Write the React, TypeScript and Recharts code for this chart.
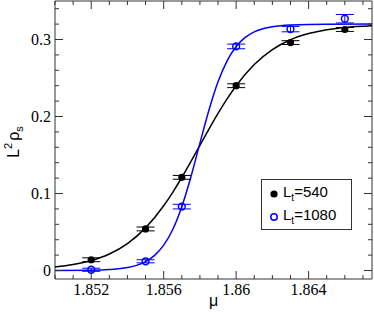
import { ComposedChart, Line, Scatter, XAxis, YAxis, ErrorBar, ReferenceArea, Legend } from "recharts";

// measured points, L_t = 540 and L_t = 1080
const MU = [1.852, 1.855, 1.857, 1.86, 1.863, 1.866];
const RHO_540 = [0.014, 0.054, 0.121, 0.24, 0.296, 0.313];
const ERR_540 = [0.0025, 0.0025, 0.0025, 0.0025, 0.0025, 0.0025];
const RHO_1080 = [0.001, 0.012, 0.083, 0.291, 0.3135, 0.327];
const ERR_1080 = [0.002, 0.002, 0.003, 0.003, 0.0035, 0.0055];

// fit curves
const FIT_MU_540 = [1.85, 1.851, 1.852, 1.853, 1.854, 1.855, 1.856, 1.8565, 1.857, 1.8575, 1.858, 1.8585, 1.859, 1.8595, 1.86, 1.861, 1.862, 1.863, 1.864, 1.865, 1.866, 1.8675];
const FIT_540 = [0.0046, 0.0078, 0.013, 0.0215, 0.035, 0.0554, 0.0841, 0.1016, 0.1208, 0.1413, 0.1626, 0.1837, 0.204, 0.2228, 0.2399, 0.2675, 0.2869, 0.2997, 0.3077, 0.3127, 0.3157, 0.318];
const FIT_MU_1080 = [1.85, 1.852, 1.853, 1.854, 1.8545, 1.855, 1.8555, 1.856, 1.8565, 1.857, 1.8575, 1.858, 1.8585, 1.859, 1.8595, 1.86, 1.8605, 1.861, 1.862, 1.863, 1.865, 1.8675];
const FIT_1080 = [0.0001, 0.0004, 0.0013, 0.0039, 0.0067, 0.0116, 0.0197, 0.0329, 0.0533, 0.0829, 0.1214, 0.1654, 0.2085, 0.245, 0.2723, 0.2909, 0.3027, 0.3099, 0.3166, 0.3189, 0.3199, 0.32];

const X_TICKS = [1.85, 1.851, 1.852, 1.853, 1.854, 1.855, 1.856, 1.857, 1.858, 1.859, 1.86, 1.861, 1.862, 1.863, 1.864, 1.865, 1.866, 1.867];
const X_MAJOR = [1.852, 1.856, 1.86, 1.864];
const Y_TICKS = [0, 0.02, 0.04, 0.06, 0.08, 0.1, 0.12, 0.14, 0.16, 0.18, 0.2, 0.22, 0.24, 0.26, 0.28, 0.3, 0.32, 0.34];
const Y_MAJOR = [0, 0.1, 0.2, 0.3];
const X_DOMAIN = [1.85, 1.8675];
const Y_DOMAIN = [-0.011, 0.35];
const LEGEND_LT = ["540", "1080"];

const W = 374;
const H = 312;
const PLOT = { left: 55, right: 372, top: 1, bottom: 279 };
const BLUE = "#0000ff";
const SERIF = "Liberation Serif";
const SANS = "Liberation Sans";

const pts540 = MU.map((x, i) => ({ x, y: RHO_540[i], err: ERR_540[i] }));
const pts1080 = MU.map((x, i) => ({ x, y: RHO_1080[i], err: ERR_1080[i] }));
const fit540 = FIT_MU_540.map((x, i) => ({ x, y: FIT_540[i] }));
const fit1080 = FIT_MU_1080.map((x, i) => ({ x, y: FIT_1080[i] }));

const isMajor = (list: number[], v: number) => list.some((m) => Math.abs(m - v) < 1e-9);

function XTick(props: any) {
  const { x, payload } = props;
  const v = payload.value;
  const major = isMajor(X_MAJOR, v);
  const len = major ? 8 : 4;
  return (
    <g>
      <line x1={x} x2={x} y1={PLOT.bottom} y2={PLOT.bottom - len} stroke="#333" />
      <line x1={x} x2={x} y1={PLOT.top} y2={PLOT.top + len} stroke="#333" />
      {major && (
        <text x={x} y={PLOT.bottom + 16} textAnchor="middle" fontFamily={SERIF} fontSize={16} fill="#000">
          {String(v)}
        </text>
      )}
    </g>
  );
}

function YTick(props: any) {
  const { y, payload } = props;
  const v = payload.value;
  const major = isMajor(Y_MAJOR, v);
  const len = major ? 8 : 4;
  return (
    <g>
      <line x1={PLOT.left} x2={PLOT.left + len} y1={y} y2={y} stroke="#333" />
      <line x1={PLOT.right} x2={PLOT.right - len} y1={y} y2={y} stroke="#333" />
      {major && (
        <text x={PLOT.left - 4} y={y + 5.5} textAnchor="end" fontFamily={SERIF} fontSize={16} fill="#000">
          {String(v)}
        </text>
      )}
    </g>
  );
}

const filledDot = (p: any) => <circle cx={p.cx} cy={p.cy} r={3.6} fill="#000" />;
const openDot = (p: any) => <circle cx={p.cx} cy={p.cy} r={3.4} fill="none" stroke={BLUE} strokeWidth={1.5} />;

function LegendBox() {
  const row = (i: number) => (
    <div key={i} style={{ position: "absolute", left: 0, top: 2 + i * 23, height: 20, lineHeight: "20px", width: "100%" }}>
      <svg width={10} height={10} style={{ position: "absolute", left: 7, top: 7 }}>
        {i === 0 ? (
          <circle cx={5} cy={5} r={3.6} fill="#000" />
        ) : (
          <circle cx={5} cy={5} r={3.2} fill="none" stroke={BLUE} strokeWidth={1.5} />
        )}
      </svg>
      <span style={{ position: "absolute", left: 21, top: 0, whiteSpace: "nowrap" }}>
        L<sub style={{ fontSize: 10, verticalAlign: "-4px", lineHeight: 0 }}>t</sub>={LEGEND_LT[i]}
      </span>
    </div>
  );
  return (
    <div
      style={{
        position: "relative",
        width: 89,
        height: 49,
        border: "1px solid #333",
        background: "#fff",
        fontFamily: SANS,
        fontSize: 15,
        color: "#000",
      }}
    >
      {row(0)}
      {row(1)}
    </div>
  );
}

export default function App() {
  return (
    <div style={{ width: W, height: H }}>
      <style>{`body{margin:0}`}</style>
      <ComposedChart width={W} height={H} margin={{ top: PLOT.top, right: W - PLOT.right, left: 0, bottom: 0 }}>
        <XAxis
          dataKey="x"
          type="number"
          domain={X_DOMAIN}
          allowDataOverflow
          ticks={X_TICKS}
          interval={0}
          tick={<XTick />}
          tickLine={false}
          axisLine={false}
          tickSize={0}
          tickMargin={0}
          height={H - PLOT.bottom}
          label={{
            content: () => (
              <text x={(PLOT.left + PLOT.right) / 2} y={306} textAnchor="middle" fontFamily={SANS} fontSize={16} fill="#000">
                μ
              </text>
            ),
          }}
        />
        <YAxis
          type="number"
          domain={Y_DOMAIN}
          allowDataOverflow
          ticks={Y_TICKS}
          interval={0}
          tick={<YTick />}
          tickLine={false}
          axisLine={false}
          tickSize={0}
          tickMargin={0}
          width={PLOT.left}
          label={{
            content: () => (
              <text transform="translate(19,142) rotate(-90)" textAnchor="middle" fontFamily={SANS} fontSize={16} fill="#000">
                L<tspan fontSize={11} dy={-7}>2</tspan>
                <tspan dy={7} dx={2}>ρ</tspan>
                <tspan fontSize={11} dy={4}>s</tspan>
              </text>
            ),
          }}
        />
        <ReferenceArea x1={X_DOMAIN[0]} x2={X_DOMAIN[1]} y1={Y_DOMAIN[0]} y2={Y_DOMAIN[1]} fill="none" stroke="#333" strokeWidth={1} />
        <Line data={fit540} dataKey="y" type="monotone" stroke="#000" strokeWidth={1.5} dot={false} legendType="none" isAnimationActive={false} />
        <Line data={fit1080} dataKey="y" type="monotone" stroke={BLUE} strokeWidth={1.5} dot={false} legendType="none" isAnimationActive={false} />
        <Scatter data={pts540} dataKey="y" name="540" fill="#000" shape={filledDot} isAnimationActive={false}>
          <ErrorBar dataKey="err" direction="y" width={9} stroke="#000" strokeWidth={1} />
        </Scatter>
        <Scatter data={pts1080} dataKey="y" name="1080" fill={BLUE} shape={openDot} isAnimationActive={false}>
          <ErrorBar dataKey="err" direction="y" width={9} stroke={BLUE} strokeWidth={1} />
        </Scatter>
        <Legend
          layout="vertical"
          align="center"
          verticalAlign="middle"
          content={() => <LegendBox />}
          wrapperStyle={{ position: "absolute", left: 261, top: 179, width: 91, height: 51 }}
        />
      </ComposedChart>
    </div>
  );
}
